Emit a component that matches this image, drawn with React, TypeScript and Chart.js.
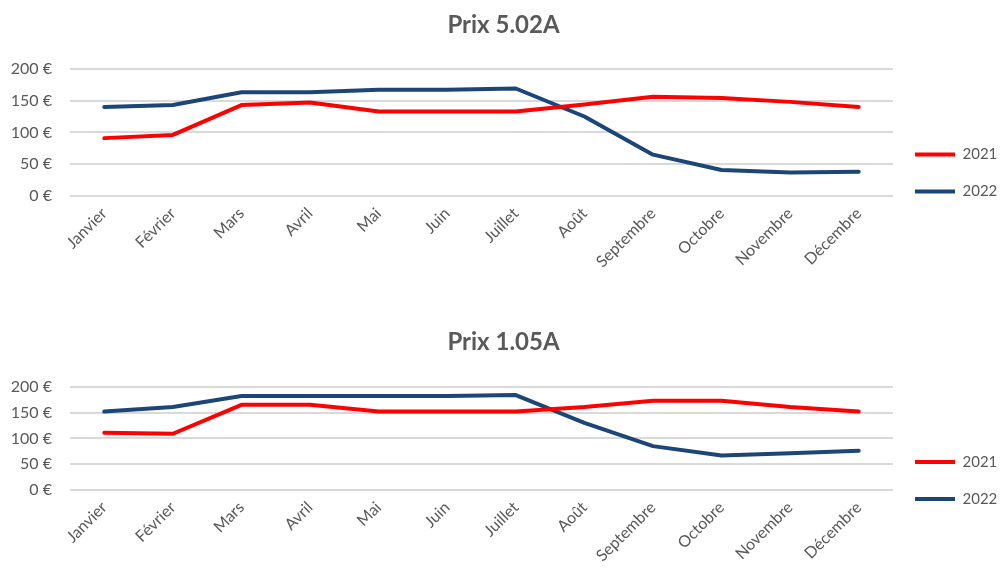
import React, { useEffect, useRef } from "react";
import { Chart, registerables } from "chart.js";

Chart.register(...registerables);

const months = ["Janvier", "Février", "Mars", "Avril", "Mai", "Juin", "Juillet", "Août", "Septembre", "Octobre", "Novembre", "Décembre"];
const seriesLabels = ["2021", "2022"];

const prix502_2021 = [91, 96, 143, 147, 133, 133, 133, 144, 156, 154, 148, 140];
const prix502_2022 = [140, 143, 163, 163, 167, 167, 169, 125, 65, 41, 37, 38];

const prix105_2021 = [111, 109, 165, 165, 152, 152, 152, 161, 173, 173, 161, 152];
const prix105_2022 = [152, 161, 182, 182, 182, 182, 184, 130, 85, 67, 71, 76];

const yTicks = [0, 50, 100, 150, 200];

const RED = "#ff0000";
const BLUE = "#1c4677";
const TEXT = "#595959";
const GRID = "#d9d9d9";
const FONT = "Lato, 'Open Sans', sans-serif";

type Cfg = {
  title: string;
  d2021: number[];
  d2022: number[];
  height: number;
  titleTop: number;
  titleBottom: number;
  xHeight: number;
  legendShift: number;
};

function LineChart({ cfg }: { cfg: Cfg }) {
  const ref = useRef<HTMLCanvasElement | null>(null);
  useEffect(() => {
    if (!ref.current) return;
    const chart = new Chart(ref.current, {
      type: "line",
      data: {
        labels: months,
        datasets: [
          { label: seriesLabels[0], data: cfg.d2021, borderColor: RED, backgroundColor: RED, borderWidth: 4, pointRadius: 0, tension: 0, borderJoinStyle: "round", borderCapStyle: "round" },
          { label: seriesLabels[1], data: cfg.d2022, borderColor: BLUE, backgroundColor: BLUE, borderWidth: 4, pointRadius: 0, tension: 0, borderJoinStyle: "round", borderCapStyle: "round" },
        ],
      },
      options: {
        animation: false,
        responsive: false,
        maintainAspectRatio: false,
        layout: { padding: { left: 0, right: 0, top: 0, bottom: 0 } },
        plugins: {
          title: {
            display: true,
            text: cfg.title,
            color: TEXT,
            font: { family: FONT, size: 24, weight: "bold", lineHeight: 1.2 },
            padding: { top: cfg.titleTop, bottom: cfg.titleBottom },
          },
          legend: {
            display: true,
            position: "right",
            align: "center",
            maxWidth: 114,
            title: {
              display: true,
              text: " ",
              font: { family: FONT, size: 10, lineHeight: 1 },
              padding: { top: cfg.legendShift - 10, bottom: 0 },
            },
            labels: {
              usePointStyle: true,
              pointStyle: "line",
              pointStyleWidth: 40,
              boxWidth: 40,
              padding: 22,
              color: TEXT,
              font: { family: FONT, size: 15 },
            },
          },
          tooltip: { enabled: false },
        },
        scales: {
          x: {
            type: "category",
            offset: true,
            grid: { display: false, drawTicks: false },
            border: { display: false },
            ticks: {
              color: TEXT,
              font: { family: FONT, size: 16 },
              minRotation: 45,
              maxRotation: 45,
              padding: 8,
              autoSkip: false,
            },
            afterFit: (s: any) => { s.height = cfg.xHeight; },
          },
          y: {
            min: 0,
            max: 200,
            afterBuildTicks: (s: any) => { s.ticks = yTicks.map((v) => ({ value: v })); },
            grid: { color: GRID, lineWidth: 2, drawTicks: false },
            border: { display: false },
            ticks: {
              color: TEXT,
              font: { family: FONT, size: 16 },
              padding: 18,
              callback: (v: any) => `${v} €`,
            },
            afterFit: (s: any) => { s.width = 70; },
          },
        },
      },
    });
    return () => chart.destroy();
  }, [cfg]);
  return <canvas ref={ref} width={1007} height={cfg.height} style={{ display: "block", width: 1007, height: cfg.height }} />;
}

const cfg1: Cfg = { title: "Prix 5.02A", d2021: prix502_2021, d2022: prix502_2022, height: 300, titleTop: 11, titleBottom: 29, xHeight: 104, legendShift: 46 };
const cfg2: Cfg = { title: "Prix 1.05A", d2021: prix105_2021, d2022: prix105_2022, height: 275, titleTop: 28, titleBottom: 30, xHeight: 85, legendShift: 86 };

export default function App() {
  return (
    <div style={{ position: "absolute", left: 0, top: 0, width: 1007, height: 575, background: "#fff" }}>
      <LineChart cfg={cfg1} />
      <LineChart cfg={cfg2} />
    </div>
  );
}
